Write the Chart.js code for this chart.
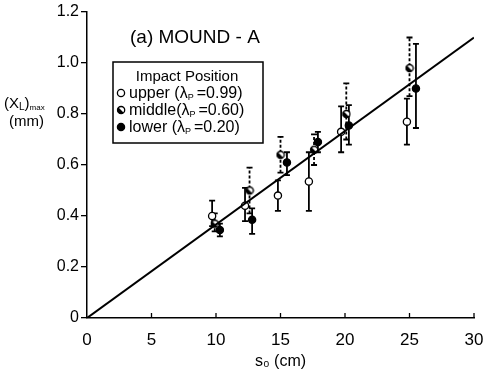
<!DOCTYPE html>
<html>
<head>
<meta charset="utf-8">
<script src="https://cdn.jsdelivr.net/npm/chart.js@4.4.1/dist/chart.umd.min.js"></script>
<style>
  html, body { margin: 0; padding: 0; background: #fff; }
  #wrap { width: 495px; height: 375px; }
</style>
</head>
<body>
<div id="wrap"><canvas id="chart"></canvas></div>
<script>
// x: s0 (cm), y: (XL)max (mm), error bars as low / high ends
const upperX  = [9.7, 12.25, 14.8, 17.2, 19.7, 24.8];
const upperY  = [0.40, 0.44, 0.48, 0.535, 0.73, 0.77];
const upperLo = [0.36, 0.38, 0.42, 0.42, 0.65, 0.68];
const upperHi = [0.46, 0.51, 0.54, 0.65, 0.83, 0.86];

const middleX  = [9.9, 12.6, 15.0, 17.6, 20.1, 25.0];
const middleY  = [0.37, 0.50, 0.64, 0.66, 0.80, 0.98];
const middleLo = [0.34, 0.41, 0.57, 0.60, 0.70, 0.87];
const middleHi = [0.41, 0.59, 0.71, 0.72, 0.92, 1.10];

const lowerX  = [10.3, 12.8, 15.5, 17.9, 20.3, 25.5];
const lowerY  = [0.345, 0.385, 0.61, 0.69, 0.755, 0.90];
const lowerLo = [0.32, 0.33, 0.56, 0.65, 0.68, 0.745];
const lowerHi = [0.37, 0.43, 0.65, 0.73, 0.835, 1.075];

const fitX = [0, 30];
const fitY = [0, 1.10];

const xTicks = [0, 5, 10, 15, 20, 25, 30];

const FONT = '"Liberation Sans", Arial, sans-serif';

function pts(xs, ys) {
    return xs.map((x, i) => ({ x: x, y: ys[i] }));
}

// half-filled marker for the middle series
function halfMarker(r) {
    const c = document.createElement('canvas');
    const s = r * 2 + 3;
    c.width = s; c.height = s;
    const g = c.getContext('2d');
    const m = s / 2;
    g.fillStyle = '#fff';
    g.beginPath(); g.arc(m, m, r, 0, Math.PI * 2); g.fill();
    g.fillStyle = '#000';
    g.beginPath(); g.arc(m, m, r, Math.PI * 0.25, Math.PI * 1.25); g.closePath(); g.fill();
    g.strokeStyle = '#000'; g.lineWidth = 1.3;
    g.beginPath(); g.arc(m, m, r, 0, Math.PI * 2); g.stroke();
    return c;
}
const midImg = halfMarker(3.6);

function drawMarker(ctx, kind, x, y) {
    ctx.save();
    ctx.lineWidth = 1.3;
    ctx.strokeStyle = '#000';
    if (kind === 'middle') {
        ctx.drawImage(midImg, x - midImg.width / 2, y - midImg.height / 2);
    } else {
        ctx.beginPath();
        ctx.arc(x, y, 3.6, 0, Math.PI * 2);
        ctx.fillStyle = kind === 'upper' ? '#fff' : '#000';
        ctx.fill();
        ctx.stroke();
    }
    ctx.restore();
}

const errorBars = {
    id: 'errorBars',
    beforeDatasetsDraw(chart) {
        const ctx = chart.ctx;
        const xs = chart.scales.x, ys = chart.scales.y;
        chart.data.datasets.forEach(ds => {
            if (!ds.errLo) return;
            ctx.save();
            ctx.strokeStyle = '#000';
            ctx.lineWidth = 1.8;
            ds.data.forEach((p, i) => {
                const px = xs.getPixelForValue(p.x);
                const lo = ys.getPixelForValue(ds.errLo[i]);
                const hi = ys.getPixelForValue(ds.errHi[i]);
                ctx.setLineDash(ds.dashed ? [3, 2] : []);
                ctx.beginPath();
                ctx.moveTo(px, lo); ctx.lineTo(px, hi);
                ctx.stroke();
                ctx.setLineDash([]);
                ctx.beginPath();
                ctx.moveTo(px - 3, lo); ctx.lineTo(px + 3, lo);
                ctx.moveTo(px - 3, hi); ctx.lineTo(px + 3, hi);
                ctx.stroke();
            });
            ctx.restore();
        });
    }
};

const decorations = {
    id: 'decorations',
    afterDraw(chart) {
        const ctx = chart.ctx;
        const xs = chart.scales.x;
        const area = chart.chartArea;
        ctx.save();
        // inward ticks on the x axis
        ctx.strokeStyle = '#000';
        ctx.lineWidth = 1.3;
        xTicks.slice(1).forEach(v => {
            const px = xs.getPixelForValue(v);
            ctx.beginPath();
            ctx.moveTo(px, area.bottom);
            ctx.lineTo(px, area.bottom - 5);
            ctx.stroke();
        });

        ctx.fillStyle = '#000';
        ctx.textBaseline = 'alphabetic';
        // panel title
        ctx.font = '19px ' + FONT;
        ctx.textAlign = 'left';
        ctx.fillText('(a) MOUND - A', 130, 43);

        // y axis title (XL)max / (mm)
        ctx.font = '15px ' + FONT;
        let x = 4;
        ctx.fillText('(X', x, 108); x += ctx.measureText('(X').width;
        ctx.font = '10px ' + FONT;
        ctx.fillText('L', x, 110); x += ctx.measureText('L').width;
        ctx.font = '15px ' + FONT;
        ctx.fillText(')', x, 108); x += ctx.measureText(')').width;
        ctx.font = '8px ' + FONT;
        ctx.fillText('max', x, 110);
        ctx.font = '15px ' + FONT;
        ctx.fillText('(mm)', 9, 126);

        // legend box
        ctx.lineWidth = 1.5;
        ctx.strokeRect(113, 62, 150, 81);
        ctx.font = '15px ' + FONT;
        ctx.textAlign = 'center';
        ctx.fillText('Impact Position', 187, 81);
        ctx.textAlign = 'left';
        const rows = [
            ['upper', 'upper ', '=0.99)'],
            ['middle', 'middle', '=0.60)'],
            ['lower', 'lower ', '=0.20)']
        ];
        rows.forEach((r, i) => {
            const y = 98 + i * 17;
            drawMarker(ctx, r[0], 121, y - 5);
            let tx = 129;
            ctx.font = '16px ' + FONT;
            const head = r[1] + '(\u03BB';
            ctx.fillText(head, tx, y); tx += ctx.measureText(head).width;
            ctx.font = '9px ' + FONT;
            ctx.fillText('P', tx, y + 2); tx += ctx.measureText('P').width + 3;
            ctx.font = '16px ' + FONT;
            ctx.fillText(r[2], tx, y);
        });
        ctx.restore();
    }
};

new Chart(document.getElementById('chart'), {
    type: 'scatter',
    data: {
        datasets: [
            {
                type: 'line', label: 'fit', data: pts(fitX, fitY),
                borderColor: '#000', borderWidth: 2, pointRadius: 0, fill: false
            },
            {
                label: 'upper', data: pts(upperX, upperY), errLo: upperLo, errHi: upperHi,
                pointStyle: 'circle', pointRadius: 3.6, backgroundColor: '#fff',
                borderColor: '#000', borderWidth: 1.3
            },
            {
                label: 'middle', data: pts(middleX, middleY), errLo: middleLo, errHi: middleHi,
                dashed: true, pointStyle: midImg, pointRadius: 4
            },
            {
                label: 'lower', data: pts(lowerX, lowerY), errLo: lowerLo, errHi: lowerHi,
                pointStyle: 'circle', pointRadius: 3.6, backgroundColor: '#000',
                borderColor: '#000', borderWidth: 1.3
            }
        ]
    },
    options: {
        responsive: true,
        maintainAspectRatio: false,
        animation: false,
        layout: { padding: { top: 12, right: 21, left: 0, bottom: 0 } },
        plugins: {
            legend: { display: false },
            tooltip: { enabled: false }
        },
        scales: {
            x: {
                type: 'linear', min: 0, max: 30,
                afterFit: s => { s.height = 57; },
                afterBuildTicks: s => { s.ticks = xTicks.map(v => ({ value: v })); },
                grid: { display: false },
                border: { display: true, color: '#000', width: 1.5 },
                ticks: { color: '#000', padding: 4, font: { family: FONT, size: 17 }, maxRotation: 0 },
                title: {
                    display: true, text: 's\u2080 (cm)', color: '#000',
                    font: { family: FONT, size: 16 }, padding: { top: 0 }
                }
            },
            y: {
                type: 'linear', min: 0, max: 1.2,
                afterFit: s => { s.width = 87; },
                grid: { drawOnChartArea: false, color: '#000', tickLength: 6, lineWidth: 1.3 },
                border: { display: true, color: '#000', width: 1.5 },
                ticks: {
                    stepSize: 0.2, color: '#000', padding: 2,
                    font: { family: FONT, size: 16 },
                    callback: v => v === 0 ? '0' : v.toFixed(1)
                }
            }
        }
    },
    plugins: [errorBars, decorations]
});
</script>
</body>
</html>
